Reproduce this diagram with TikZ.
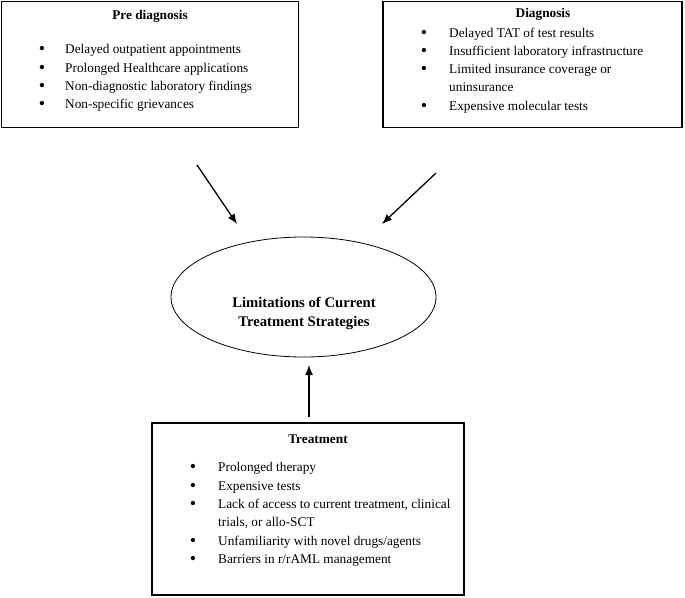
\documentclass[tikz,border=0pt]{standalone}
\usepackage{fontspec}
\setmainfont{Liberation Serif}
\usetikzlibrary{arrows.meta,shapes.geometric}
\begin{document}
\begin{tikzpicture}[x=1pt,y=-1pt,
  box/.style={draw=black,line width=1.2pt,inner sep=0pt,rectangle},
  ell/.style={draw=black,line width=0.8pt,ellipse,inner sep=0pt,minimum width=265pt,minimum height=120pt},
  ttl/.style={font=\fontsize{13.3}{16}\selectfont\bfseries,anchor=base,inner sep=0pt},
  bigttl/.style={font=\fontsize{14.7}{18}\selectfont\bfseries,anchor=base,inner sep=0pt},
  itm/.style={font=\fontsize{13.3}{16}\selectfont,anchor=base west,inner sep=0pt},
  bul/.style={font=\fontsize{18}{20}\selectfont,anchor=base,inner sep=0pt,yshift=-1.5pt},
  arr/.style={line width=1.3pt,-{Latex[length=10pt,width=8pt]}}]
\useasboundingbox (0,0) rectangle (685,597);
\fill[white] (0,0) rectangle (685,597);
% boxes
\node[box,minimum width=297pt,minimum height=126pt] (pre) at (150,64.5) {};
\node[box,minimum width=299pt,minimum height=126pt] (dia) at (532.5,64.5) {};
\node[box,minimum width=312pt,minimum height=172pt] (trt) at (308,509) {};
\node[ell] (lim) at (303.5,297) {};
% pre diagnosis
\node[ttl] (pret) at (150,19) {Pre diagnosis};
\node[bul] (pb1) at (42,53) {\textbullet};
\node[itm] (p1) at (65,53) {Delayed outpatient appointments};
\node[bul] (pb2) at (42,72) {\textbullet};
\node[itm] (p2) at (65,72) {Prolonged Healthcare applications};
\node[bul] (pb3) at (42,90) {\textbullet};
\node[itm] (p3) at (65,90) {Non-diagnostic laboratory findings};
\node[bul] (pb4) at (42,108) {\textbullet};
\node[itm] (p4) at (65,108) {Non-specific grievances};
% diagnosis
\node[ttl] (diat) at (543,17) {Diagnosis};
\node[bul] (db1) at (424,37) {\textbullet};
\node[itm] (d1) at (449,37) {Delayed TAT of test results};
\node[bul] (db2) at (424,55) {\textbullet};
\node[itm] (d2) at (449,55) {Insufficient laboratory infrastructure};
\node[bul] (db3) at (424,73) {\textbullet};
\node[itm] (d3) at (449,73) {Limited insurance coverage or};
\node[itm] (d3b) at (449,91) {uninsurance};
\node[bul] (db4) at (424,110) {\textbullet};
\node[itm] (d4) at (449,110) {Expensive molecular tests};
% ellipse text
\node[bigttl] (lim1) at (304,307) {Limitations of Current};
\node[bigttl] (lim2) at (304,326) {Treatment Strategies};
% treatment
\node[ttl] (trtt) at (318,443) {Treatment};
\node[bul] (tb1) at (193,471) {\textbullet};
\node[itm] (t1) at (218,471) {Prolonged therapy};
\node[bul] (tb2) at (193,490) {\textbullet};
\node[itm] (t2) at (218,490) {Expensive tests};
\node[bul] (tb3) at (193,508) {\textbullet};
\node[itm] (t3) at (218,508) {Lack of access to current treatment, clinical};
\node[itm] (t3b) at (218,526) {trials, or allo-SCT};
\node[bul] (tb4) at (193,545) {\textbullet};
\node[itm] (t4) at (218,545) {Unfamiliarity with novel drugs/agents};
\node[bul] (tb5) at (193,563) {\textbullet};
\node[itm] (t5) at (218,563) {Barriers in r/rAML management};
% arrows
\coordinate (a1s) at (197,165);
\coordinate (a1e) at (237,224);
\coordinate (a2s) at (436,173);
\coordinate (a2e) at (382,224);
\coordinate (a3s) at (309,417);
\coordinate (a3e) at (309,365);
\draw[arr] (a1s) -- (a1e);
\draw[arr] (a2s) -- (a2e);
\draw[arr] (a3s) -- (a3e);
\end{tikzpicture}
\end{document}
